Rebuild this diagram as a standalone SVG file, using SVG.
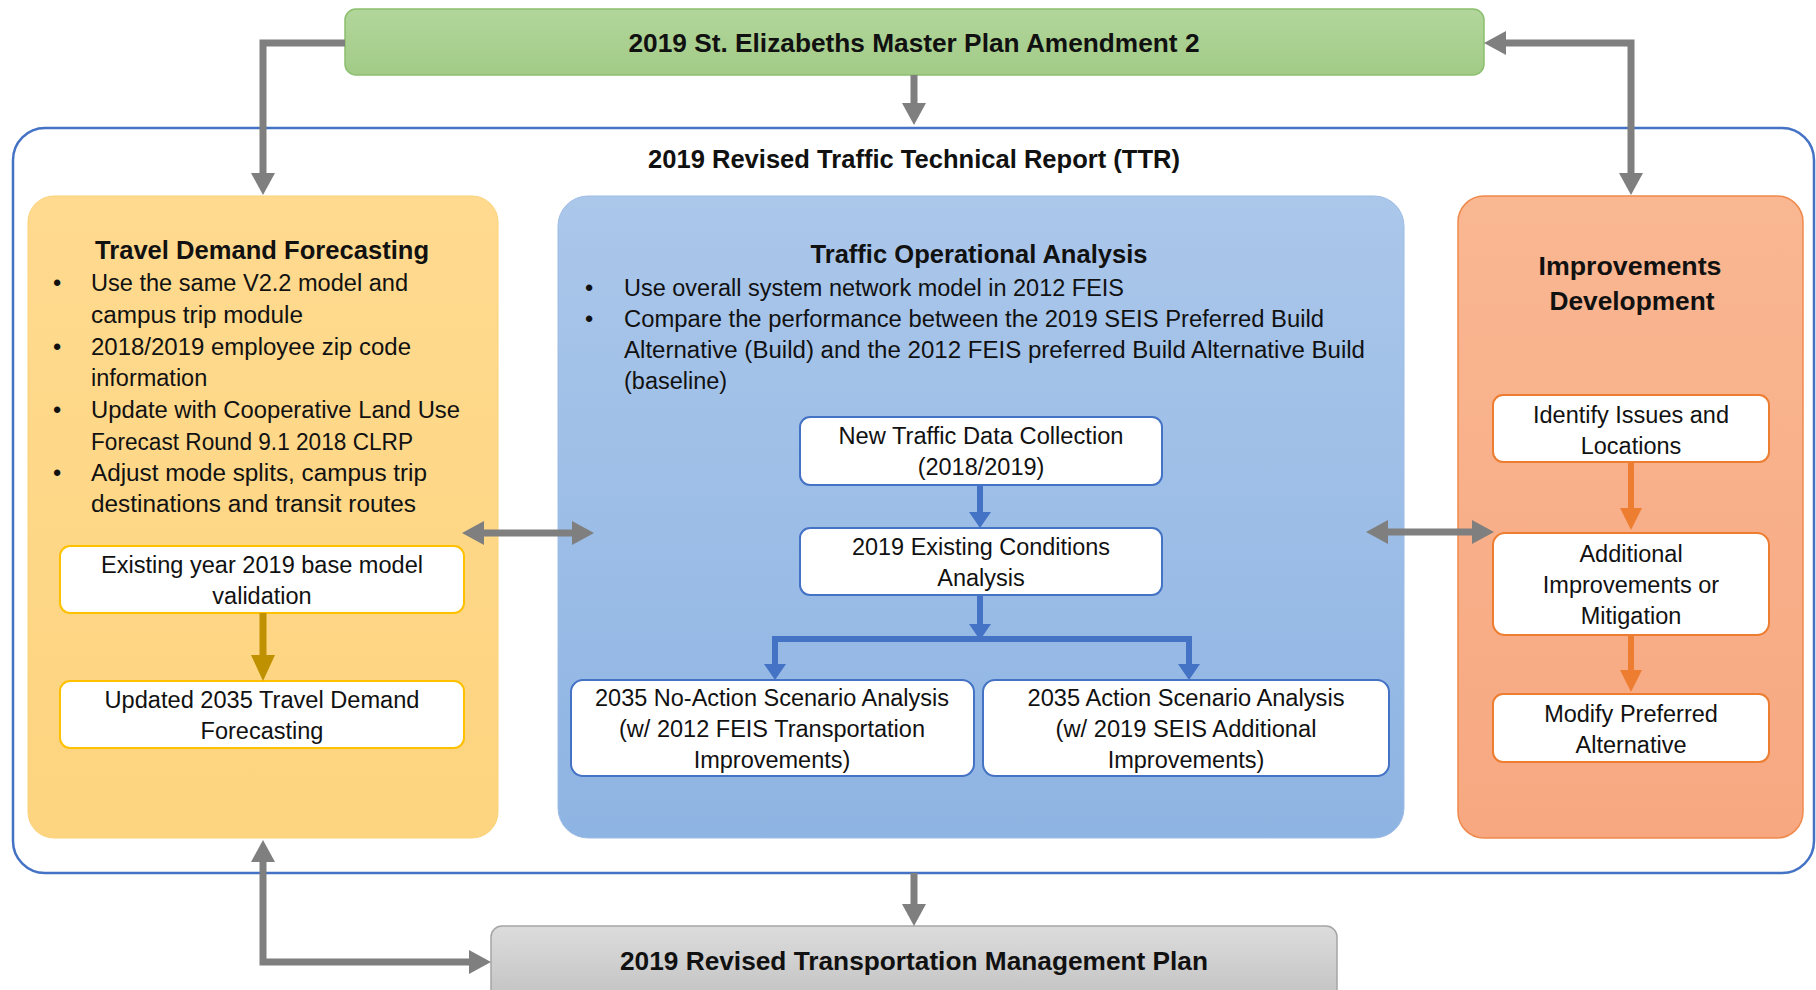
<svg xmlns="http://www.w3.org/2000/svg" width="1816" height="990" viewBox="0 0 1816 990">
<defs>
<style>
text{font-family:"Liberation Sans",Arial,sans-serif;fill:#111}
.h{font-weight:bold;font-size:26px;text-anchor:middle}
.p{font-size:23.5px}
.c{font-size:23.5px;text-anchor:middle}
.wo{fill:#fff;stroke:#ffc000;stroke-width:2}
.wb{fill:#fff;stroke:#4472c4;stroke-width:2}
.wr{fill:#fff;stroke:#ed7d31;stroke-width:2}
.ag{fill:none;stroke:#7f7f7f;stroke-width:7}
.ab{fill:none;stroke:#4472c4;stroke-width:6}
.ay{fill:none;stroke:#bf9000;stroke-width:7}
.ar{fill:none;stroke:#ed7d31;stroke-width:6}
</style>
<linearGradient id="gG" x1="0" y1="0" x2="0" y2="1"><stop offset="0" stop-color="#b2d69b"/><stop offset="1" stop-color="#a2cb87"/></linearGradient>
<linearGradient id="gO" x1="0" y1="0" x2="0" y2="1"><stop offset="0" stop-color="#ffda8f"/><stop offset="1" stop-color="#fdd47f"/></linearGradient>
<linearGradient id="gB" x1="0" y1="0" x2="0" y2="1"><stop offset="0" stop-color="#abc7ea"/><stop offset="1" stop-color="#8eb4e3"/></linearGradient>
<linearGradient id="gS" x1="0" y1="0" x2="0" y2="1"><stop offset="0" stop-color="#f9b792"/><stop offset="1" stop-color="#f7a881"/></linearGradient>
<linearGradient id="gY" x1="0" y1="0" x2="0" y2="1"><stop offset="0" stop-color="#dcdcdc"/><stop offset="1" stop-color="#bdbdbd"/></linearGradient>
<marker id="mg" viewBox="0 0 22 24" refX="0" refY="12" markerWidth="22" markerHeight="24" markerUnits="userSpaceOnUse" orient="auto-start-reverse"><path d="M0,0 L22,12 L0,24 z" fill="#7f7f7f"/></marker>
<marker id="mb" viewBox="0 0 16 22" refX="0" refY="11" markerWidth="16" markerHeight="22" markerUnits="userSpaceOnUse" orient="auto-start-reverse"><path d="M0,0 L16,11 L0,22 z" fill="#4472c4"/></marker>
<marker id="my" viewBox="0 0 26 24" refX="0" refY="12" markerWidth="26" markerHeight="24" markerUnits="userSpaceOnUse" orient="auto-start-reverse"><path d="M0,0 L26,12 L0,24 z" fill="#bf9000"/></marker>
<marker id="mr" viewBox="0 0 22 22" refX="0" refY="11" markerWidth="22" markerHeight="22" markerUnits="userSpaceOnUse" orient="auto-start-reverse"><path d="M0,0 L22,11 L0,22 z" fill="#ed7d31"/></marker>
</defs>
<rect width="1816" height="990" fill="#fff"/>

<g id="ttr">
<rect x="13" y="128" width="1801" height="745" rx="32" fill="#fff" stroke="#4472c4" stroke-width="2.5"/>
<text class="h" x="914" y="168" textLength="532" lengthAdjust="spacingAndGlyphs">2019 Revised Traffic Technical Report (TTR)</text>
</g>

<g id="masterplan">
<rect x="345" y="9" width="1139" height="66" rx="11" fill="url(#gG)" stroke="#8cbf6e" stroke-width="1.5"/>
<text class="h" x="914" y="52" textLength="571" lengthAdjust="spacingAndGlyphs">2019 St. Elizabeths Master Plan Amendment 2</text>
</g>

<g id="tmp">
<rect x="491" y="926" width="846" height="90" rx="11" fill="url(#gY)" stroke="#a5a5a5" stroke-width="1.5"/>
<text class="h" x="914" y="970" textLength="588" lengthAdjust="spacingAndGlyphs">2019 Revised Transportation Management Plan</text>
</g>

<g id="tdf">
<rect x="28" y="196" width="470" height="642" rx="26" fill="url(#gO)" stroke="#fcd27a" stroke-width="1"/>
<text class="h" x="262" y="259" textLength="334" lengthAdjust="spacingAndGlyphs">Travel Demand Forecasting</text>
<text class="p" x="53" y="291">•</text><text class="p" x="91" y="291" textLength="317" lengthAdjust="spacingAndGlyphs">Use the same V2.2 model and</text>
<text class="p" x="91" y="323" textLength="212" lengthAdjust="spacingAndGlyphs">campus trip module</text>
<text class="p" x="53" y="355">•</text><text class="p" x="91" y="355" textLength="320" lengthAdjust="spacingAndGlyphs">2018/2019 employee zip code</text>
<text class="p" x="91" y="386">information</text>
<text class="p" x="53" y="418">•</text><text class="p" x="91" y="418" textLength="369" lengthAdjust="spacingAndGlyphs">Update with Cooperative Land Use</text>
<text class="p" x="91" y="450" textLength="322" lengthAdjust="spacingAndGlyphs">Forecast Round 9.1 2018 CLRP</text>
<text class="p" x="53" y="481">•</text><text class="p" x="91" y="481" textLength="336" lengthAdjust="spacingAndGlyphs">Adjust mode splits, campus trip</text>
<text class="p" x="91" y="512" textLength="325" lengthAdjust="spacingAndGlyphs">destinations and transit routes</text>
</g>

<g id="baseval">
<rect class="wo" x="60" y="546" width="404" height="67" rx="10"/>
<text class="c" x="262" y="573" textLength="322" lengthAdjust="spacingAndGlyphs">Existing year 2019 base model</text>
<text class="c" x="262" y="604">validation</text>
</g>

<g id="tdf2035">
<rect class="wo" x="60" y="681" width="404" height="67" rx="10"/>
<text class="c" x="262" y="708" textLength="315" lengthAdjust="spacingAndGlyphs">Updated 2035 Travel Demand</text>
<text class="c" x="262" y="739">Forecasting</text>
</g>

<g id="toa">
<rect x="558" y="196" width="846" height="642" rx="30" fill="url(#gB)" stroke="#9dbce6" stroke-width="1"/>
<text class="h" x="979" y="263" textLength="337" lengthAdjust="spacingAndGlyphs">Traffic Operational Analysis</text>
<text class="p" x="585" y="296">•</text><text class="p" x="624" y="296" textLength="500" lengthAdjust="spacingAndGlyphs">Use overall system network model in 2012 FEIS</text>
<text class="p" x="585" y="327">•</text><text class="p" x="624" y="327" textLength="700" lengthAdjust="spacingAndGlyphs">Compare the performance between the 2019 SEIS Preferred Build</text>
<text class="p" x="624" y="358" textLength="741" lengthAdjust="spacingAndGlyphs">Alternative (Build) and the 2012 FEIS preferred Build Alternative Build</text>
<text class="p" x="624" y="389">(baseline)</text>
</g>

<g id="datacoll">
<rect class="wb" x="800" y="417" width="362" height="68" rx="10"/>
<text class="c" x="981" y="444" textLength="285" lengthAdjust="spacingAndGlyphs">New Traffic Data Collection</text>
<text class="c" x="981" y="475">(2018/2019)</text>
</g>

<g id="existcond">
<rect class="wb" x="800" y="528" width="362" height="67" rx="10"/>
<text class="c" x="981" y="555" textLength="258" lengthAdjust="spacingAndGlyphs">2019 Existing Conditions</text>
<text class="c" x="981" y="586">Analysis</text>
</g>

<g id="noaction">
<rect class="wb" x="571" y="680" width="403" height="96" rx="12"/>
<text class="c" x="772" y="706" textLength="354" lengthAdjust="spacingAndGlyphs">2035 No-Action Scenario Analysis</text>
<text class="c" x="772" y="737" textLength="306" lengthAdjust="spacingAndGlyphs">(w/ 2012 FEIS Transportation</text>
<text class="c" x="772" y="768">Improvements)</text>
</g>

<g id="action">
<rect class="wb" x="983" y="680" width="406" height="96" rx="12"/>
<text class="c" x="1186" y="706" textLength="317" lengthAdjust="spacingAndGlyphs">2035 Action Scenario Analysis</text>
<text class="c" x="1186" y="737" textLength="261" lengthAdjust="spacingAndGlyphs">(w/ 2019 SEIS Additional</text>
<text class="c" x="1186" y="768">Improvements)</text>
</g>

<g id="impdev">
<rect x="1458" y="196" width="345" height="642" rx="26" fill="url(#gS)" stroke="#f0894c" stroke-width="1.5"/>
<text class="h" x="1630" y="275" textLength="183" lengthAdjust="spacingAndGlyphs">Improvements</text>
<text class="h" x="1632" y="310" textLength="165" lengthAdjust="spacingAndGlyphs">Development</text>
</g>

<g id="identify">
<rect class="wr" x="1493" y="395" width="276" height="67" rx="10"/>
<text class="c" x="1631" y="423">Identify Issues and</text>
<text class="c" x="1631" y="454">Locations</text>
</g>

<g id="additional">
<rect class="wr" x="1493" y="533" width="276" height="102" rx="12"/>
<text class="c" x="1631" y="562">Additional</text>
<text class="c" x="1631" y="593">Improvements or</text>
<text class="c" x="1631" y="624">Mitigation</text>
</g>

<g id="modify">
<rect class="wr" x="1493" y="694" width="276" height="68" rx="10"/>
<text class="c" x="1631" y="722">Modify Preferred</text>
<text class="c" x="1631" y="753">Alternative</text>
</g>

<g id="connectors">
<path class="ag" d="M914,75 V103" marker-end="url(#mg)"/>
<path class="ag" d="M345,43 H263 V173" marker-end="url(#mg)"/>
<path class="ag" d="M1506,43 H1631 V173" marker-start="url(#mg)" marker-end="url(#mg)"/>
<path class="ag" d="M484,533 H572" marker-start="url(#mg)" marker-end="url(#mg)"/>
<path class="ag" d="M1388,532 H1472" marker-start="url(#mg)" marker-end="url(#mg)"/>
<path class="ag" d="M914,873 V904" marker-end="url(#mg)"/>
<path class="ag" d="M263,862 V962 H469" marker-start="url(#mg)" marker-end="url(#mg)"/>
<path class="ay" d="M263,613 V655" marker-end="url(#my)"/>
<path class="ab" d="M980,485 V512" marker-end="url(#mb)"/>
<path class="ab" d="M980,595 V624" marker-end="url(#mb)"/>
<path class="ab" d="M775,664 V639 H1189 V664" marker-start="url(#mb)" marker-end="url(#mb)"/>
<path class="ar" d="M1631,462 V508" marker-end="url(#mr)"/>
<path class="ar" d="M1631,635 V670" marker-end="url(#mr)"/>
</g>
</svg>
